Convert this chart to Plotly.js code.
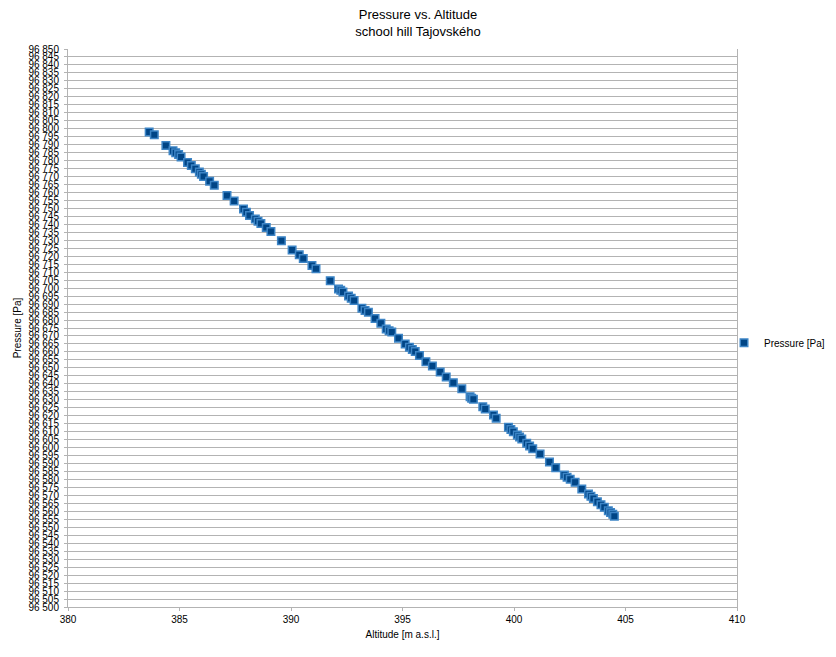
<!DOCTYPE html>
<html>
<head>
<meta charset="utf-8">
<script src="https://cdn.plot.ly/plotly-3.0.1.min.js"></script>
<style>html,body{margin:0;padding:0;background:#fff;}#chart{width:836px;height:657px;}</style>
</head>
<body>
<div id="chart"></div>
<script>
// Altitude [m a.s.l.]
const altitude = [
  383.64, 383.87, 384.39, 384.71, 384.83, 384.96, 385.07, 385.36, 385.53, 385.71,
  385.89, 385.98, 386.08, 386.35, 386.56, 387.13, 387.45, 387.87, 388.00, 388.14,
  388.40, 388.52, 388.65, 388.89, 389.10, 389.57, 390.05, 390.37, 390.55, 390.94,
  391.12, 391.76, 392.13, 392.23, 392.33, 392.58, 392.70, 392.83, 393.18, 393.32,
  393.47, 393.77, 394.03, 394.27, 394.40, 394.52, 394.82, 395.12, 395.31, 395.44,
  395.57, 395.76, 396.05, 396.34, 396.69, 396.96, 397.28, 397.66, 398.03, 398.10,
  398.18, 398.60, 398.71, 399.08, 399.20, 399.75, 399.86, 399.97, 400.15, 400.25,
  400.35, 400.57, 400.70, 400.84, 401.17, 401.59, 401.87, 402.26, 402.38, 402.52,
  402.74, 403.04, 403.34, 403.45, 403.56, 403.74, 403.90, 404.05, 404.23, 404.33,
  404.43, 404.50
];
// Pressure [Pa]
const pressure = [
  96797.9, 96796.2, 96789.5, 96786.2, 96785.0, 96783.8, 96782.2, 96778.8, 96776.9, 96774.9,
  96772.8, 96771.4, 96770.0, 96767.1, 96764.5, 96758.1, 96754.6, 96749.6, 96747.6, 96745.5,
  96743.3, 96742.0, 96740.5, 96738.0, 96735.5, 96729.8, 96724.0, 96720.9, 96718.6, 96714.2,
  96712.1, 96704.7, 96699.5, 96698.6, 96697.6, 96695.1, 96693.6, 96692.2, 96687.4, 96686.0,
  96684.9, 96680.9, 96678.0, 96674.4, 96673.3, 96672.5, 96668.6, 96665.0, 96662.9, 96661.5,
  96660.2, 96657.7, 96653.9, 96651.2, 96647.4, 96644.3, 96640.7, 96636.9, 96631.9, 96631.0,
  96630.3, 96625.6, 96624.2, 96620.4, 96618.4, 96612.7, 96611.3, 96609.9, 96607.9, 96606.6,
  96605.4, 96602.7, 96601.0, 96599.3, 96596.0, 96590.9, 96587.4, 96582.8, 96581.4, 96580.1,
  96578.2, 96574.0, 96570.8, 96569.4, 96568.1, 96566.0, 96564.2, 96562.5, 96560.4, 96559.2,
  96558.1, 96557.0
];
const seriesName = 'Pressure [Pa]';
const chartTitle = 'Pressure vs. Altitude<br>school hill Tajovského';
const xTitle = 'Altitude [m a.s.l.]';
const yTitle = 'Pressure [Pa]';

const trace = {
  x: altitude, y: pressure, type: 'scatter', mode: 'markers', name: seriesName,
  marker: {symbol: 'square', size: 7.5, color: '#004586', line: {color: '#3d85c6', width: 1.5}},
  showlegend: true
};

const grid = '#b3b3b3';
const layout = {
  width: 836, height: 657,
  paper_bgcolor: '#ffffff', plot_bgcolor: '#ffffff',
  separators: '. ',
  font: {family: '"Liberation Sans", Arial, sans-serif', size: 10, color: '#000'},
  margin: {l: 68, r: 99, t: 49, b: 50, pad: 0, autoexpand: false},
  title: {text: chartTitle, font: {size: 13, color: '#000'}, x: 0.5, xref: 'container', y: 0.9706, yanchor: 'top'},
  xaxis: {
    range: [380, 410], dtick: 5, tick0: 380, showgrid: false, zeroline: false,
    showline: true, linecolor: grid, linewidth: 1, mirror: false,
    ticks: 'outside', ticklen: 3, tickcolor: grid, tickfont: {size: 10},
    title: {text: xTitle, font: {size: 10}, standoff: 6}
  },
  yaxis: {
    range: [96500, 96850], dtick: 5, tick0: 96500, tickformat: ',d',
    showgrid: true, gridcolor: grid, gridwidth: 1, zeroline: false,
    showline: true, linecolor: grid, linewidth: 1, mirror: true,
    ticks: 'outside', ticklen: 3, tickcolor: grid, tickfont: {size: 10},
    ticklabelstandoff: 3,
    title: {text: yTitle, font: {size: 10}, standoff: 4}
  },
  legend: {x: 0.9806, xanchor: 'left', y: 0.4734, yanchor: 'middle', bgcolor: 'rgba(0,0,0,0)', font: {size: 10}}
};

Plotly.newPlot('chart', [trace], layout, {displayModeBar: false, staticPlot: true});
</script>
</body>
</html>
